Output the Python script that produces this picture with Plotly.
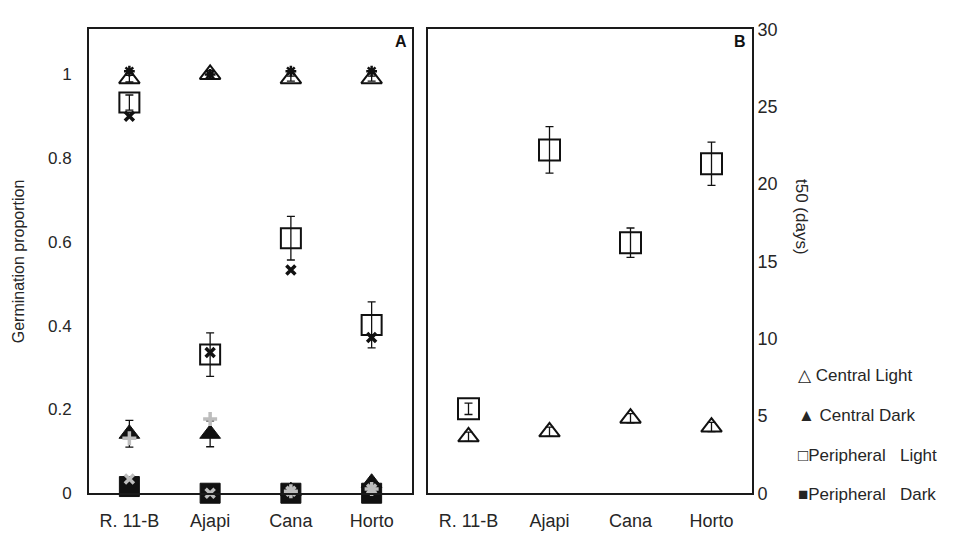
import plotly.graph_objects as go

categories = ["R. 11-B", "Ajapi", "Cana", "Horto"]

# Panel A - germination proportion
central_light_prop = [0.99, 1.0, 0.99, 0.99]
central_light_prop_err = [0.008, 0.01, 0.006, 0.006]
central_dark_prop = [0.142, 0.142, 0.005, 0.025]
central_dark_prop_err = [0.032, 0.031, 0.0, 0.0]
peripheral_light_prop = [0.933, 0.331, 0.609, 0.402]
peripheral_light_prop_err = [0.018, 0.052, 0.052, 0.055]
peripheral_dark_prop = [0.016, 0.0, 0.0, 0.0]

# companion markers (no legend entry)
light_plus_prop = [1.008, 1.0, 1.008, 1.008]
light_x_prop = [0.90, 0.336, 0.533, 0.372]
dark_plus_prop = [0.131, 0.177, 0.005, 0.01]
dark_x_prop = [0.034, 0.0, 0.005, 0.01]

# Panel B - t50 (days)
central_light_t50 = [3.65, 3.97, 4.85, 4.28]
central_light_t50_err = [0.3, 0.3, 0.3, 0.3]
peripheral_light_t50 = [5.46, 22.2, 16.2, 21.3]
peripheral_light_t50_err = [0.37, 1.5, 0.95, 1.4]

prop_ticks = [0, 0.2, 0.4, 0.6, 0.8, 1]
prop_ticktext = ["0", "0.2", "0.4", "0.6", "0.8", "1"]
t50_ticks = [0, 5, 10, 15, 20, 25, 30]

NB = "\u00a0"
legend_labels = ["\u25b3 Central Light", "\u25b2 Central Dark",
                 "\u25a1Peripheral" + NB * 3 + "Light", "\u25a0Peripheral" + NB * 3 + "Dark"]

BLACK = "#111111"
GRAY = "#bdbdbd"
W, H = 956, 535


def err(vals):
    return dict(type="data", array=vals, visible=True, color=BLACK,
                thickness=1.3, width=4)


fig = go.Figure()

# ---- Panel A ----
fig.add_trace(go.Scatter(
    x=categories, y=central_light_prop, mode="markers", name="Central Light",
    error_y=err(central_light_prop_err), cliponaxis=False,
    marker=dict(symbol="triangle-up-open", size=18, color=BLACK, line=dict(width=2, color=BLACK)),
    xaxis="x", yaxis="y"))
fig.add_trace(go.Scatter(
    x=categories, y=peripheral_light_prop, mode="markers", name="Peripheral Light",
    error_y=err(peripheral_light_prop_err), cliponaxis=False,
    marker=dict(symbol="square-open", size=20, color=BLACK, line=dict(width=2, color=BLACK)),
    xaxis="x", yaxis="y"))
fig.add_trace(go.Scatter(
    x=categories, y=central_dark_prop, mode="markers", name="Central Dark",
    error_y=err(central_dark_prop_err), cliponaxis=False,
    marker=dict(symbol="triangle-up", size=18, color=BLACK, line=dict(width=1, color=BLACK)),
    xaxis="x", yaxis="y"))
fig.add_trace(go.Scatter(
    x=categories, y=peripheral_dark_prop, mode="markers", name="Peripheral Dark",
    cliponaxis=False,
    marker=dict(symbol="square", size=20, color=BLACK, line=dict(width=1, color=BLACK)),
    xaxis="x", yaxis="y"))
fig.add_trace(go.Scatter(
    x=categories, y=light_plus_prop, mode="markers", cliponaxis=False,
    marker=dict(symbol="asterisk-open", size=9, color=BLACK, line=dict(width=2.5, color=BLACK)),
    xaxis="x", yaxis="y"))
fig.add_trace(go.Scatter(
    x=categories, y=light_x_prop, mode="markers", cliponaxis=False,
    marker=dict(symbol="x-thin-open", size=9, color=BLACK, line=dict(width=3.5, color=BLACK)),
    xaxis="x", yaxis="y"))
fig.add_trace(go.Scatter(
    x=categories, y=dark_plus_prop, mode="markers", cliponaxis=False,
    marker=dict(symbol="cross-thin-open", size=10, color=GRAY, line=dict(width=3.5, color=GRAY)),
    xaxis="x", yaxis="y"))
fig.add_trace(go.Scatter(
    x=categories, y=dark_x_prop, mode="markers", cliponaxis=False,
    marker=dict(symbol="x-thin-open", size=9, color=GRAY, line=dict(width=3.5, color=GRAY)),
    xaxis="x", yaxis="y"))

# ---- Panel B ----
fig.add_trace(go.Scatter(
    x=categories, y=central_light_t50, mode="markers",
    error_y=err(central_light_t50_err), cliponaxis=False,
    marker=dict(symbol="triangle-up-open", size=18, color=BLACK, line=dict(width=2, color=BLACK)),
    xaxis="x2", yaxis="y2"))
fig.add_trace(go.Scatter(
    x=categories, y=peripheral_light_t50, mode="markers",
    error_y=err(peripheral_light_t50_err), cliponaxis=False,
    marker=dict(symbol="square-open", size=21, color=BLACK, line=dict(width=2, color=BLACK)),
    xaxis="x2", yaxis="y2"))

frame = dict(showline=True, mirror=True, linecolor="#1a1a1a", linewidth=2,
             showgrid=False, zeroline=False, ticks="")
ydom = [1 - 502 / H, 1 - 20 / H]

fig.update_layout(
    width=W, height=H,
    margin=dict(l=0, r=0, t=0, b=0),
    paper_bgcolor="white", plot_bgcolor="white",
    showlegend=False,
    font=dict(family="Liberation Sans, Arial, sans-serif", size=16, color="#262626"),
    xaxis=dict(domain=[89 / W, 412 / W], anchor="y", type="category",
               categoryorder="array", categoryarray=categories,
               range=[-0.5, 3.5], ticklabelstandoff=10, tickfont=dict(size=18), **frame),
    yaxis=dict(domain=ydom, anchor="x", range=[0, 1.108],
               tickvals=prop_ticks, ticktext=prop_ticktext,
               ticklabelstandoff=12, tickfont=dict(size=17), **frame),
    xaxis2=dict(domain=[428 / W, 752 / W], anchor="y2", type="category",
                categoryorder="array", categoryarray=categories,
                range=[-0.5, 3.5], ticklabelstandoff=10, tickfont=dict(size=18), **frame),
    yaxis2=dict(domain=ydom, anchor="x2", side="right", range=[0, 30],
                tickvals=t50_ticks, ticklabelstandoff=0, tickfont=dict(size=18), **frame),
)

ann = []
# axis titles
ann.append(dict(text="Germination proportion", textangle=-90, x=18 / W, y=1 - 261 / H,
                xanchor="center", yanchor="middle",
                xref="paper", yref="paper", showarrow=False, font=dict(size=16)))
ann.append(dict(text="t50 (days)", textangle=90, x=801 / W, y=1 - 215 / H,
                xanchor="center", yanchor="middle",
                xref="paper", yref="paper", showarrow=False, font=dict(size=17)))
# panel letters
ann.append(dict(text="<b>A</b>", x=409 / W, y=1 - 33 / H, xanchor="right", yanchor="middle",
                xref="paper", yref="paper", showarrow=False, font=dict(size=16, color="#111111")))
ann.append(dict(text="<b>B</b>", x=748 / W, y=1 - 33 / H, xanchor="right", yanchor="middle",
                xref="paper", yref="paper", showarrow=False, font=dict(size=16, color="#111111")))
# legend
legend_y = [380, 421, 463, 503]
for lab, yy in zip(legend_labels, legend_y):
    ann.append(dict(text=lab, x=796 / W, y=1 - yy / H, xanchor="left", yanchor="middle",
                    xref="paper", yref="paper", showarrow=False, font=dict(size=17)))
fig.update_layout(annotations=ann)

fig.write_html("out.html")
